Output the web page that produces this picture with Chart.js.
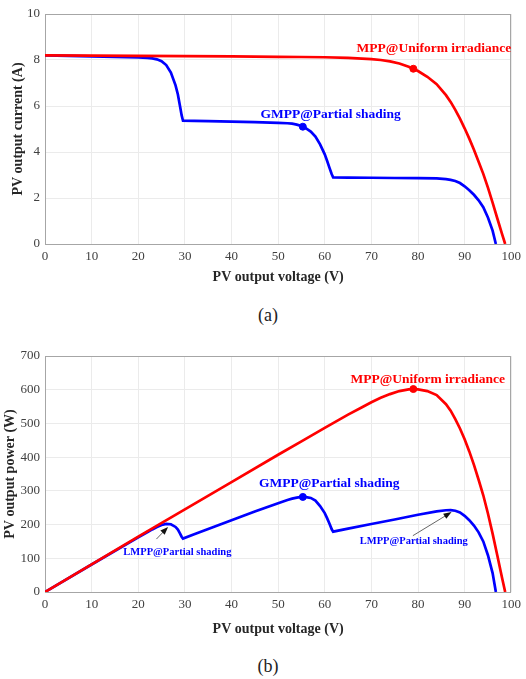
<!DOCTYPE html>
<html>
<head>
<meta charset="utf-8">
<script src="https://cdn.jsdelivr.net/npm/chart.js@4.4.1/dist/chart.umd.min.js"></script>
<style>
  html, body { margin: 0; padding: 0; background: #fff; }
  #page { position: relative; width: 526px; height: 679px; overflow: hidden; }
  .box { position: absolute; left: 0; width: 526px; }
  .caption { position: absolute; width: 60px; text-align: center; font: 18px "Liberation Serif", serif; color: #222; line-height: 20px; }
</style>
</head>
<body>
<div id="page">
  <div class="box" style="top:0;height:290px"><canvas id="iv-chart" width="526" height="290"></canvas></div>
  <div class="caption" style="left:238px;top:305px">(a)</div>
  <div class="box" style="top:336px;height:302px"><canvas id="pv-chart" width="526" height="302"></canvas></div>
  <div class="caption" style="left:238px;top:656px">(b)</div>
</div>
<script>
// --- data ---
// uniform irradiance curve (red)
const uniformVoltage = [0, 10, 20, 30, 40, 50, 55, 60, 65, 68, 70, 72, 74, 76, 78, 79, 80, 82, 84, 86, 87, 88, 89, 90, 91, 92, 93, 94, 95, 96, 97, 98, 98.7];
const uniformCurrent = [8.20, 8.19, 8.18, 8.17, 8.16, 8.14, 8.13, 8.12, 8.09, 8.06, 8.04, 8.00, 7.94, 7.85, 7.71, 7.62, 7.52, 7.27, 6.95, 6.47, 6.18, 5.83, 5.45, 5.03, 4.58, 4.10, 3.58, 3.05, 2.45, 1.80, 1.12, 0.45, 0];
const uniformPower = [0, 82, 164, 245, 326, 407, 447, 487, 526, 548, 563, 576, 587, 596, 601, 602, 601, 596, 584, 557, 538, 513, 485, 453, 417, 377, 333, 287, 233, 173, 109, 44, 0];

// partial shading curve (blue)
const shadedVoltage = [0, 10, 20, 22, 23, 24, 25, 26, 27, 28, 28.5, 29, 29.3, 29.6, 32, 35, 40, 45, 50, 52, 53, 54, 55, 55.3, 56, 57, 58, 59, 60, 60.5, 61, 61.5, 61.8, 65, 70, 75, 80, 84, 86, 87, 88, 89, 90, 91, 92, 93, 94, 95, 96, 96.7];
const shadedCurrent = [8.20, 8.16, 8.11, 8.09, 8.07, 8.03, 7.95, 7.78, 7.45, 6.90, 6.50, 5.95, 5.60, 5.36, 5.35, 5.34, 5.32, 5.30, 5.27, 5.25, 5.23, 5.19, 5.13, 5.10, 5.03, 4.89, 4.67, 4.33, 3.90, 3.62, 3.32, 3.03, 2.90, 2.89, 2.88, 2.87, 2.86, 2.85, 2.82, 2.79, 2.74, 2.65, 2.51, 2.34, 2.14, 1.90, 1.60, 1.15, 0.58, 0];
const shadedPower = [0, 81.6, 162, 178, 185.6, 192.7, 198.8, 202, 201, 193, 185, 172.5, 164, 158.6, 171, 187, 213, 238.5, 263.5, 273, 277, 280, 282, 282, 281.5, 279, 271, 255, 234, 219, 203, 186, 179, 188, 201.6, 215, 229, 239, 242.5, 243, 241, 236, 226, 213, 197, 177, 150, 109, 56, 0];

// maximum power points: [uniform MPP, shaded GMPP]
const mppVoltage = [79, 55.3];
const mppCurrent = [7.62, 5.10];
const mppPower = [602, 282];

// axis ticks
const voltageTicks = [0, 10, 20, 30, 40, 50, 60, 70, 80, 90, 100];
const currentTicks = [0, 2, 4, 6, 8, 10];
const powerTicks = [0, 100, 200, 300, 400, 500, 600, 700];

const RED = '#ff0000';
const BLUE = '#0000ff';
const SERIF = '"Liberation Serif", "Times New Roman", serif';

function toPoints(xs, ys) {
    return xs.map((x, i) => ({ x: x, y: ys[i] }));
}

// box round the plot + text labels and arrows in data units
const plotDecor = {
    id: 'plotDecor',
    beforeDatasetsDraw(chart) {
        const { ctx, chartArea: a } = chart;
        ctx.save();
        ctx.strokeStyle = '#a6a6a6';
        ctx.lineWidth = 1;
        ctx.strokeRect(Math.round(a.left) + 0.5, Math.round(a.top) + 0.5, Math.round(a.width) - 1, Math.round(a.height));
        ctx.restore();
    },
    afterDatasetsDraw(chart, args, opts) {
        const { ctx, scales: { x, y } } = chart;
        ctx.save();
        (opts.arrows || []).forEach(ar => {
            const x0 = x.getPixelForValue(ar.from[0]), y0 = y.getPixelForValue(ar.from[1]);
            const x1 = x.getPixelForValue(ar.to[0]), y1 = y.getPixelForValue(ar.to[1]);
            const ang = Math.atan2(y1 - y0, x1 - x0);
            ctx.strokeStyle = '#555';
            ctx.lineWidth = 0.9;
            ctx.beginPath();
            ctx.moveTo(x0, y0);
            ctx.lineTo(x1 - 5 * Math.cos(ang), y1 - 5 * Math.sin(ang));
            ctx.stroke();
            ctx.fillStyle = '#111';
            ctx.beginPath();
            ctx.moveTo(x1, y1);
            ctx.lineTo(x1 - 8 * Math.cos(ang) + 3 * Math.sin(ang), y1 - 8 * Math.sin(ang) - 3 * Math.cos(ang));
            ctx.lineTo(x1 - 8 * Math.cos(ang) - 3 * Math.sin(ang), y1 - 8 * Math.sin(ang) + 3 * Math.cos(ang));
            ctx.closePath();
            ctx.fill();
        });
        (opts.labels || []).forEach(lb => {
            ctx.font = `bold ${lb.size}px ${SERIF}`;
            ctx.fillStyle = lb.color;
            ctx.textAlign = lb.align || 'left';
            ctx.textBaseline = 'middle';
            ctx.fillText(lb.text, x.getPixelForValue(lb.x), y.getPixelForValue(lb.y));
        });
        ctx.restore();
    }
};

function makeChart(canvasId, curveUniform, curveShaded, yInfo) {
    const ctx = document.getElementById(canvasId).getContext('2d');
    return new Chart(ctx, {
        type: 'scatter',
        data: {
            datasets: [
                { data: yInfo.mppUniform, pointRadius: 3.5, pointBackgroundColor: RED, pointBorderColor: RED, showLine: false },
                { data: yInfo.mppShaded, pointRadius: 3.5, pointBackgroundColor: BLUE, pointBorderColor: BLUE, showLine: false },
                { data: curveUniform, showLine: true, borderColor: RED, borderWidth: 2.7, pointRadius: 0, tension: 0 },
                { data: curveShaded, showLine: true, borderColor: BLUE, borderWidth: 2.7, pointRadius: 0, tension: 0 }
            ]
        },
        options: {
            responsive: false,
            animation: false,
            events: [],
            layout: { padding: yInfo.padding },
            plugins: {
                legend: { display: false },
                tooltip: { enabled: false },
                plotDecor: { labels: yInfo.labels, arrows: yInfo.arrows }
            },
            scales: {
                x: {
                    type: 'linear',
                    min: 0, max: 100,
                    afterBuildTicks: s => { s.ticks = voltageTicks.map(v => ({ value: v })); },
                    afterFit: s => { s.height = 46; },
                    grid: { color: '#ebebeb', drawTicks: false },
                    border: { display: false },
                    ticks: { color: '#404040', padding: 5, font: { family: SERIF, size: 13 }, maxRotation: 0 },
                    title: { display: true, text: 'PV output voltage (V)', color: '#262626', padding: { top: 0, bottom: yInfo.xTitlePad }, font: { family: SERIF, size: 14, weight: 'bold' } }
                },
                y: {
                    type: 'linear',
                    min: yInfo.min, max: yInfo.max,
                    afterBuildTicks: s => { s.ticks = yInfo.ticks.map(v => ({ value: v })); },
                    afterFit: s => { s.width = 45; },
                    grid: { color: '#ebebeb', drawTicks: false },
                    border: { display: false },
                    ticks: { color: '#404040', padding: 5, font: { family: SERIF, size: 13 } },
                    title: { display: true, text: yInfo.title, color: '#262626', padding: { top: yInfo.yTitlePad, bottom: 0 }, font: { family: SERIF, size: 14, weight: 'bold' } }
                }
            }
        },
        plugins: [plotDecor]
    });
}

// (a) current vs voltage
makeChart('iv-chart',
    toPoints(uniformVoltage, uniformCurrent),
    toPoints(shadedVoltage, shadedCurrent),
    {
        min: 0, max: 10, ticks: currentTicks,
        title: 'PV output current (A)',
        padding: { left: 0, right: 14, top: 14, bottom: 0 },
        xTitlePad: 4, yTitlePad: 10,
        mppUniform: [{ x: mppVoltage[0], y: mppCurrent[0] }],
        mppShaded: [{ x: mppVoltage[1], y: mppCurrent[1] }],
        labels: [
            { text: 'MPP@Uniform irradiance', x: 100, y: 8.48, color: RED, size: 13.5, align: 'right' },
            { text: 'GMPP@Partial shading', x: 46.2, y: 5.65, color: BLUE, size: 13.5 }
        ],
        arrows: []
    });

// (b) power vs voltage
makeChart('pv-chart',
    toPoints(uniformVoltage, uniformPower),
    toPoints(shadedVoltage, shadedPower),
    {
        min: 0, max: 700, ticks: powerTicks,
        title: 'PV output power (W)',
        padding: { left: 0, right: 14, top: 20, bottom: 0 },
        xTitlePad: 0, yTitlePad: 2,
        mppUniform: [{ x: mppVoltage[0], y: mppPower[0] }],
        mppShaded: [{ x: mppVoltage[1], y: mppPower[1] }],
        labels: [
            { text: 'MPP@Uniform irradiance', x: 65.5, y: 631, color: RED, size: 13.5 },
            { text: 'GMPP@Partial shading', x: 45.9, y: 323, color: BLUE, size: 13.5 },
            { text: 'LMPP@Partial shading', x: 16.8, y: 117, color: BLUE, size: 10.5 },
            { text: 'LMPP@Partial shading', x: 67.5, y: 151, color: BLUE, size: 10.5 }
        ],
        arrows: [
            { from: [23.9, 157], to: [26.4, 193] },
            { from: [78.9, 167], to: [87.2, 237] }
        ]
    });
</script>
</body>
</html>
